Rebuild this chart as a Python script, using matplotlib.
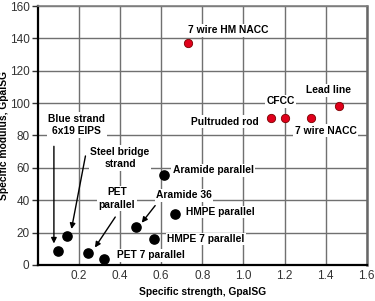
import matplotlib
matplotlib.use('Agg')
import matplotlib.pyplot as plt

# black points (fibre/strand materials)
black_names = ['Blue strand', 'Steel bridge', 'PET parallel', 'PET 7 parallel',
               'Aramide 36', 'HMPE 7 parallel', 'Aramide parallel', 'HMPE parallel']
black_x = [0.10, 0.14, 0.245, 0.32, 0.478, 0.563, 0.613, 0.667]
black_y = [8.5, 18, 7.6, 3.9, 23.3, 16, 55.5, 31.5]

# red points (composite conductors / rods)
red_names = ['7 wire HM NACC', 'Pultruded rod', 'CFCC', '7 wire NACC', 'Lead line']
red_x = [0.73, 1.133, 1.20, 1.33, 1.465]
red_y = [137, 91, 91, 91, 98]

xticks = [0.2, 0.4, 0.6, 0.8, 1.0, 1.2, 1.4, 1.6]
xtick_labels = ['0.2', '0.4', '0.6', '0.8', '1.0', '1.2', '1.4', '1.6']
yticks = [0, 20, 40, 60, 80, 100, 120, 140, 160]

fam = ['Liberation Sans', 'DejaVu Sans']
bold = dict(family=fam, fontweight='bold', fontsize=7.4)
box = dict(facecolor='white', edgecolor='none', pad=1.0)

fig = plt.figure(figsize=(3.75, 3.01), dpi=100)
ax = fig.add_axes([0.101, 0.12, 0.877, 0.86])

ax.scatter(black_x, black_y, s=44, color='black', zorder=3)
ax.scatter(red_x, red_y, s=36, color='#e0001b', edgecolor='#7a0000', linewidth=0.6, zorder=3)

ax.set_xlim(0, 1.6)
ax.set_ylim(0, 160)
ax.set_xticks(xticks)
ax.set_xticklabels(xtick_labels)
ax.set_yticks(yticks)
ax.grid(True, color='#707070', linewidth=1.0)
ax.set_axisbelow(True)
ax.tick_params(axis='both', labelsize=8.5, colors='#333333', length=4, width=1, pad=2)
ax.tick_params(axis='x', length=0, pad=4)
for lab in ax.get_xticklabels() + ax.get_yticklabels():
    lab.set_family(fam)

ax.spines['left'].set_color('black')
ax.spines['left'].set_linewidth(1.6)
ax.spines['bottom'].set_color('black')
ax.spines['bottom'].set_linewidth(1.6)
ax.spines['right'].set_color('#666666')
ax.spines['right'].set_linewidth(1.8)
ax.spines['top'].set_color('#808080')
ax.spines['top'].set_linewidth(1.2)

ax.set_xlabel('Specific strength, GpalSG', labelpad=3, **bold)
ax.set_ylabel('Specific modulus, GpalSG', **bold)
ax.yaxis.set_label_coords(-0.088, 0.5)

# labels
ax.text(0.732, 145, '7 wire HM NACC', ha='left', va='center', bbox=box, **bold)
ax.text(1.18, 101, 'CFCC', ha='center', va='center', bbox=box, **bold)
ax.text(1.415, 108, 'Lead line', ha='center', va='center', bbox=box, **bold)
ax.text(0.912, 88.5, 'Pultruded rod', ha='center', va='center', bbox=box, **bold)
ax.text(1.40, 83, '7 wire NACC', ha='center', va='center', bbox=box, **bold)
ax.text(0.19, 86.5, 'Blue strand\n6x19 EIPS', ha='center', va='center',
        linespacing=1.3, bbox=box, **bold)
ax.text(0.40, 66, 'Steel bridge\nstrand', ha='center', va='center',
        linespacing=1.3, bbox=box, **bold)
ax.text(0.385, 41, 'PET\nparallel', ha='center', va='center',
        linespacing=1.3, bbox=box, **bold)
ax.text(0.655, 58.6, 'Aramide parallel', ha='left', va='center', bbox=box, **bold)
ax.text(0.575, 43, 'Aramide 36', ha='left', va='center', bbox=box, **bold)
ax.text(0.722, 32.7, 'HMPE parallel', ha='left', va='center', bbox=box, **bold)
ax.text(0.628, 16, 'HMPE 7 parallel', ha='left', va='center', bbox=box, **bold)
ax.text(0.385, 6, 'PET 7 parallel', ha='left', va='center', bbox=box, **bold)

# arrows
arrow = dict(arrowstyle='-|>', color='black', lw=1.0, mutation_scale=8)
ax.annotate('', xy=(0.078, 11.5), xytext=(0.078, 75), arrowprops=arrow)
ax.annotate('', xy=(0.161, 20.5), xytext=(0.234, 69), arrowprops=arrow)
ax.annotate('', xy=(0.27, 9.3), xytext=(0.384, 31), arrowprops=arrow)
ax.annotate('', xy=(0.497, 24.7), xytext=(0.579, 38), arrowprops=arrow)

fig.savefig('out.png', dpi=100)
